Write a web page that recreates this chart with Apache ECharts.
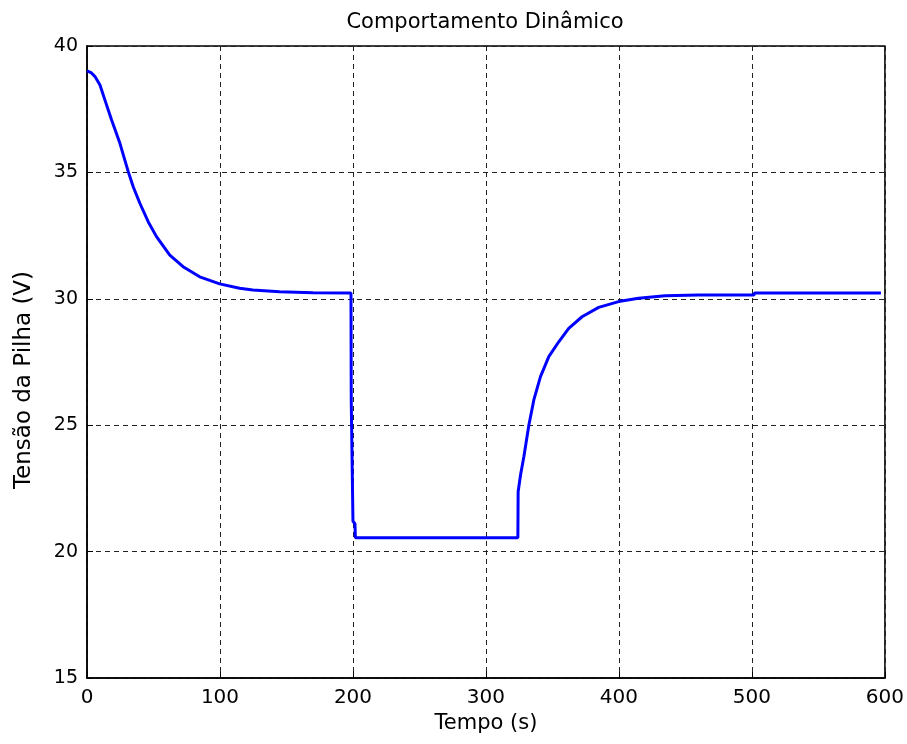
<!DOCTYPE html>
<html>
<head>
<meta charset="utf-8">
<script src="https://cdn.jsdelivr.net/npm/echarts@6/dist/echarts.min.js"></script>
<style>html,body{margin:0;padding:0;background:#fff;}#c{width:907px;height:744px;}</style>
</head>
<body>
<div id="c"></div>
<script>
const titleText = "Comportamento Dinâmico";
const xName = "Tempo (s)";
const yName = "Tensão da Pilha (V)";
const xTicks = [0, 100, 200, 300, 400, 500, 600];
const yTicks = [15, 20, 25, 30, 35, 40];
const tempo = [0, 3, 6, 9.75, 13.5, 18.5, 24.75, 31, 34.75, 39.75, 46, 52.25, 62.25, 72.25, 84.75, 99.75, 114.75, 124.75, 144.75, 170, 198.5,
  198.7, 199.8, 200, 201.5, 201.8, 324, 324.2, 326, 328.5, 332.25, 336, 341, 347.25, 354.75, 362.25, 372.25, 384.75, 399.75, 414.75, 434.75, 459.75, 501.5, 502, 597];
const tensao = [39.02, 38.95, 38.79, 38.46, 37.86, 37.07, 36.15, 35.03, 34.43, 33.78, 33.05, 32.46, 31.73, 31.27, 30.87, 30.59, 30.42, 30.35, 30.28, 30.24, 30.23,
  25.97, 25.9, 21.2, 21.1, 20.55, 20.55, 22.37, 23.03, 23.75, 25.0, 26.0, 26.92, 27.71, 28.30, 28.83, 29.29, 29.66, 29.89, 30.02, 30.12, 30.15, 30.15, 30.23, 30.23];

const chart = echarts.init(document.getElementById('c'), null, {renderer: 'canvas'});
const font = 'DejaVu Sans';
const gridLine = {show: true, lineStyle: {color: '#222', type: [5, 4], width: 1}};
chart.setOption({
  animation: false,
  backgroundColor: '#fff',
  title: {text: titleText, left: 480, textAlign: 'center', top: 7,
    textStyle: {fontFamily: font, fontSize: 21, fontWeight: 'normal', color: '#000'}},
  grid: {left: 87, right: 20, top: 46, bottom: 66, show: true, borderColor: '#000', borderWidth: 1.5},
  xAxis: {type: 'value', min: xTicks[0], max: xTicks[xTicks.length - 1], interval: 100,
    name: xName, nameLocation: 'middle', nameGap: 35,
    nameTextStyle: {fontFamily: font, fontSize: 21, color: '#000'},
    axisLine: {show: true, lineStyle: {color: '#000', width: 1.5}},
    axisTick: {show: true, inside: true, length: 6, lineStyle: {color: '#000'}},
    axisLabel: {fontFamily: font, fontSize: 20, color: '#000', margin: 10},
    splitLine: gridLine},
  yAxis: {type: 'value', min: yTicks[0], max: yTicks[yTicks.length - 1], interval: 5,
    name: yName, nameLocation: 'middle', nameGap: 51,
    nameTextStyle: {fontFamily: font, fontSize: 23, color: '#000', padding: [0, 36, 0, 0]},
    axisLine: {show: true, lineStyle: {color: '#000', width: 1.5}},
    axisTick: {show: true, inside: true, length: 6, lineStyle: {color: '#000'}},
    axisLabel: {fontFamily: font, fontSize: 19, color: '#000', margin: 9},
    splitLine: gridLine},
  series: [{type: 'line', data: tempo.map((t, i) => [t, tensao[i]]), showSymbol: false, smooth: false,
    lineStyle: {color: '#0000ff', width: 3}, z: 5}]
});
</script>
</body>
</html>
